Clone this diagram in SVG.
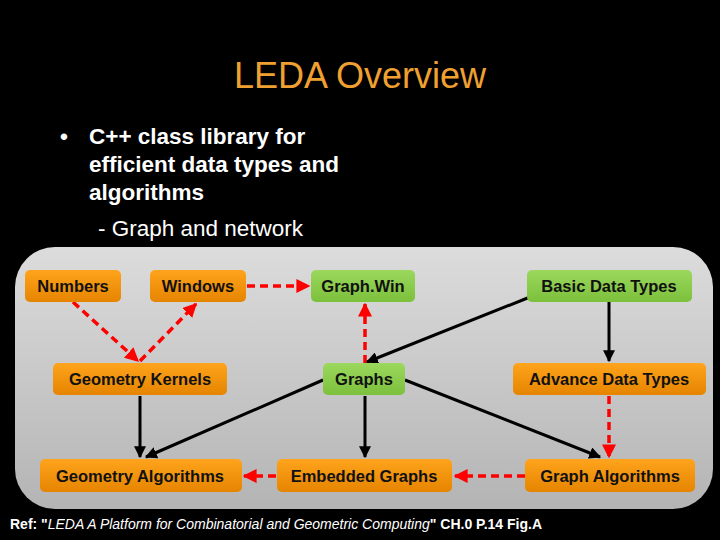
<svg xmlns="http://www.w3.org/2000/svg" width="720" height="540" viewBox="0 0 720 540">
<defs>
<linearGradient id="bg" x1="0" y1="0" x2="0" y2="1"><stop offset="0" stop-color="#dcdcdc"/><stop offset="1" stop-color="#b4b4b4"/></linearGradient>
<linearGradient id="or" x1="0" y1="0" x2="0" y2="1"><stop offset="0" stop-color="#ffa41c"/><stop offset="1" stop-color="#e58400"/></linearGradient>
<linearGradient id="gr" x1="0" y1="0" x2="0" y2="1"><stop offset="0" stop-color="#9bd85d"/><stop offset="1" stop-color="#7cc03c"/></linearGradient>
<marker id="ab" viewBox="0 0 10 10" refX="9" refY="5" markerWidth="4" markerHeight="4" orient="auto"><path d="M0,0L10,5L0,10z" fill="#000"/></marker>
<marker id="ar" viewBox="0 0 10 10" refX="9" refY="5" markerWidth="4" markerHeight="4" orient="auto"><path d="M0,0L10,5L0,10z" fill="#f00"/></marker>
</defs>
<style>
.o{fill:url(#or)}.g{fill:url(#gr)}
.t{font-family:"Liberation Sans",Arial,sans-serif;font-size:16.5px;font-weight:bold;fill:#111;text-anchor:middle}
.k{stroke:#000;stroke-width:3;fill:none;marker-end:url(#ab)}
.r{stroke:#f00;stroke-width:3.5;stroke-dasharray:8,5;fill:none;marker-end:url(#ar)}
</style>
<rect width="720" height="540" fill="#000"/>
<text x="360" y="88" font-family="Liberation Sans,Arial,sans-serif" font-size="36" fill="#f0a030" text-anchor="middle">LEDA Overview</text>
<g font-family="Liberation Sans,Arial,sans-serif" font-size="22.5" font-weight="bold" fill="#fff">
<text x="60" y="144">•</text>
<text x="89" y="144">C++ class library for</text>
<text x="89" y="172">efficient data types and</text>
<text x="89" y="200">algorithms</text>
<text x="98" y="236" font-weight="normal">- Graph and network</text>
</g>
<rect x="15" y="247" width="698" height="262" rx="40" fill="url(#bg)"/>
<g id="connectors">
<path class="r" d="M73,302L138,361"/>
<path class="r" d="M140,361L196,304"/>
<path class="r" d="M247,286L309,286"/>
<path class="r" d="M365,363L365,304"/>
<path class="k" d="M530,297L367,362"/>
<path class="k" d="M609,302L609,361"/>
<path class="r" d="M609,396L609,457"/>
<path class="k" d="M405,380L600,457"/>
<path class="k" d="M365,396L365,457"/>
<path class="k" d="M140,396L140,457"/>
<path class="k" d="M323,380L146,457"/>
<path class="r" d="M525,476L455,476"/>
<path class="r" d="M276,476L244,476"/>
</g>
<g id="numbers"><rect class="o" x="25" y="270" width="96" height="32" rx="5"/><text class="t" x="73" y="292">Numbers</text></g>
<g id="windows"><rect class="o" x="150" y="270" width="96" height="32" rx="5"/><text class="t" x="198" y="292">Windows</text></g>
<g id="graphwin"><rect class="g" x="311" y="270" width="104" height="32" rx="5"/><text class="t" x="363" y="292">Graph.Win</text></g>
<g id="basic"><rect class="g" x="527" y="270" width="165" height="32" rx="5"/><text class="t" x="609" y="292">Basic Data Types</text></g>
<g id="kernels"><rect class="o" x="53" y="363" width="174" height="32" rx="5"/><text class="t" x="140" y="385">Geometry Kernels</text></g>
<g id="graphs"><rect class="g" x="323" y="363" width="82" height="32" rx="5"/><text class="t" x="364" y="385">Graphs</text></g>
<g id="advance"><rect class="o" x="513" y="363" width="193" height="32" rx="5"/><text class="t" x="609" y="385">Advance Data Types</text></g>
<g id="geoalg"><rect class="o" x="40" y="459" width="202" height="33" rx="5"/><text class="t" x="140" y="482">Geometry Algorithms</text></g>
<g id="embedded"><rect class="o" x="277" y="459" width="175" height="33" rx="5"/><text class="t" x="364" y="482">Embedded Graphs</text></g>
<g id="graphalg"><rect class="o" x="525" y="459" width="170" height="33" rx="5"/><text class="t" x="610" y="482">Graph Algorithms</text></g>
<text x="10" y="529" font-family="Liberation Sans,Arial,sans-serif" font-size="14" fill="#fff"><tspan font-weight="bold">Ref: "</tspan><tspan font-style="italic">LEDA  A Platform for Combinatorial and Geometric Computing</tspan><tspan font-weight="bold">" CH.0 P.14 Fig.A</tspan></text>
</svg>
